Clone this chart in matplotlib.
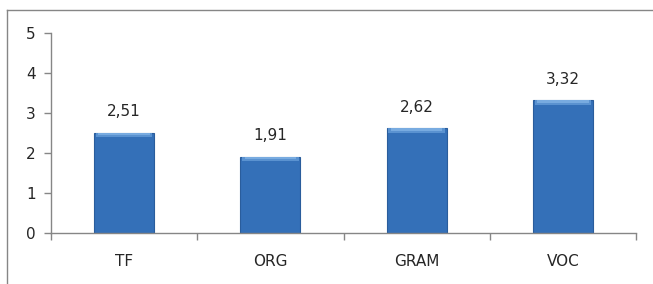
import matplotlib
matplotlib.use("Agg")
import matplotlib.pyplot as plt
from matplotlib.lines import Line2D
import numpy as np

categories = ["TF", "ORG", "GRAM", "VOC"]
values = [2.51, 1.91, 2.62, 3.32]
value_labels = ["2,51", "1,91", "2,62", "3,32"]
y_ticks = [0, 1, 2, 3, 4, 5]

plt.rcParams['font.family'] = ['DejaVu Sans']

fig = plt.figure(figsize=(6.53, 2.84), dpi=100)
ax = fig.add_axes([51/653, 1 - 233/284, (636 - 51)/653, 200/284])

x = np.arange(len(categories))
w = 0.41
ax.bar(x, values, width=w, color="#3470b8", edgecolor="#2a5d9c", linewidth=0.8, zorder=2)
# bevel highlight at top of each bar
bevel = 0.12
ax.bar(x, [bevel]*len(values), bottom=[v - bevel for v in values], width=w*0.94,
       color="#5a92d0", linewidth=0, zorder=3)
ax.bar(x, [bevel*0.55]*len(values), bottom=[v - bevel*0.6 for v in values], width=w*0.86,
       color="#78abe0", linewidth=0, zorder=4)

for xi, v, lab in zip(x, values, value_labels):
    ax.text(xi, v + 0.33, lab, ha="center", va="bottom", fontsize=11, color="#262626")

ax.set_xlim(-0.5, 3.5)
ax.set_ylim(0, 5)
ax.set_yticks(y_ticks)
ax.set_yticklabels([str(t) for t in y_ticks])
ax.set_xticks(x)
ax.set_xticklabels(categories)
ax.set_xticks(np.arange(-0.5, 4.0, 1.0), minor=True)
ax.tick_params(axis="x", which="major", length=0, pad=15, labelsize=11, labelcolor="#262626")
ax.tick_params(axis="x", which="minor", length=5, width=1, color="#868686", direction="out")
ax.tick_params(axis="y", length=5, width=1, color="#868686", pad=6, labelsize=11, labelcolor="#262626")

for s in ["top", "right"]:
    ax.spines[s].set_visible(False)
for s in ["left", "bottom"]:
    ax.spines[s].set_color("#868686")
    ax.spines[s].set_linewidth(1)

# outer chart border (top and left visible)
fig.add_artist(Line2D([7/653, 7/653], [0, 1 - 10/284], transform=fig.transFigure, color="#868686", lw=1))
fig.add_artist(Line2D([7/653, 1], [1 - 10/284, 1 - 10/284], transform=fig.transFigure, color="#868686", lw=1))

fig.savefig("out.png", dpi=100)
